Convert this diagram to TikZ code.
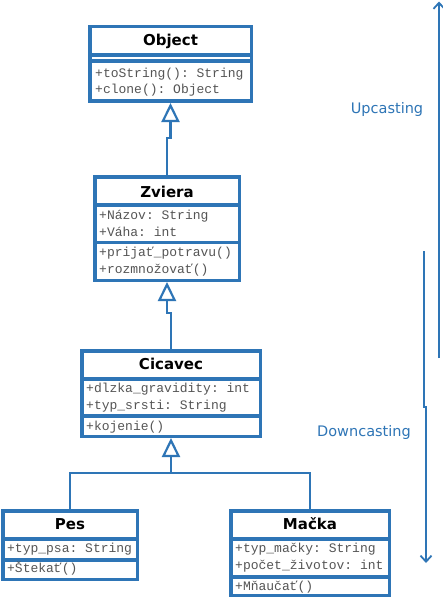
\documentclass[tikz,border=0pt]{standalone}
\usepackage{fontspec}
\setmainfont{DejaVu Sans}
\setmonofont{Liberation Mono}
\usetikzlibrary{arrows.meta}
\definecolor{umlblue}{HTML}{2E75B6}
\definecolor{membergray}{HTML}{555555}
\tikzset{
  classbox/.style={draw=umlblue, line width=3.5pt, fill=white, rectangle, inner sep=0pt},
  sepline/.style={draw=umlblue, line width=3.2pt},
  title/.style={font=\bfseries\fontsize{15}{17}\selectfont, text=black, inner sep=0pt},
  member/.style={font=\ttfamily\fontsize{13}{15}\selectfont, text=membergray, inner sep=0pt, anchor=west, text height=8pt, text depth=2pt},
  gen/.style={draw=umlblue, line width=2.2pt, -{Triangle[open, length=19pt, width=18pt, line width=2.2pt, fill=white]}},
  castarrow/.style={draw=umlblue, line width=2.2pt, -{Straight Barb[length=6pt, width=11pt, line width=1.8pt]}},
  castlabel/.style={font=\fontsize{14.5}{16}\selectfont, text=umlblue, inner sep=0pt}
}
\begin{document}
\begin{tikzpicture}[x=1pt,y=-1pt]
\useasboundingbox[fill=white] (0,0) rectangle (442,599);

% Object
\node[classbox, minimum width=161.5pt, minimum height=74.5pt] (obj) at (170.5,64) {};
\draw[sepline] (obj.west |- 0,55) -- (obj.east |- 0,55);
\draw[sepline] (obj.west |- 0,61) -- (obj.east |- 0,61);
\node[title] (objT) at (170.5,41) {Object};
\node[member] (objM1) at (95,75) {+toString(): String};
\node[member] (objM2) at (95,91) {+clone(): Object};

% Zviera
\node[classbox, minimum width=144.5pt, minimum height=103.5pt] (zv) at (167,228.5) {};
\draw[sepline] (zv.west |- 0,205) -- (zv.east |- 0,205);
\draw[sepline] (zv.west |- 0,242.5) -- (zv.east |- 0,242.5);
\node[title] (zvT) at (167,192) {Zviera};
\node[member] (zvA1) at (99,216) {+Názov: String};
\node[member] (zvA2) at (99,233) {+Váha: int};
\node[member] (zvM1) at (99,253) {+prijať\_potravu()};
\node[member] (zvM2) at (99,270) {+rozmnožovať()};

% Cicavec
\node[classbox, minimum width=178.5pt, minimum height=85.5pt] (cic) at (171,393.5) {};
\draw[sepline] (cic.west |- 0,379) -- (cic.east |- 0,379);
\draw[sepline] (cic.west |- 0,416) -- (cic.east |- 0,416);
\node[title] (cicT) at (171,364) {Cicavec};
\node[member] (cicA1) at (86,389) {+dlzka\_gravidity: int};
\node[member] (cicA2) at (86,406) {+typ\_srsti: String};
\node[member] (cicM1) at (86,427) {+kojenie()};

% Pes
\node[classbox, minimum width=134.5pt, minimum height=68.5pt] (pes) at (70,545) {};
\draw[sepline] (pes.west |- 0,539) -- (pes.east |- 0,539);
\draw[sepline] (pes.west |- 0,560) -- (pes.east |- 0,560);
\node[title] (pesT) at (70,524) {Pes};
\node[member] (pesA1) at (7,549) {+typ\_psa: String};
\node[member] (pesM1) at (7,569) {+Štekať()};

% Macka
\node[classbox, minimum width=158.5pt, minimum height=84.5pt] (mac) at (310,553) {};
\draw[sepline] (mac.west |- 0,539) -- (mac.east |- 0,539);
\draw[sepline] (mac.west |- 0,577) -- (mac.east |- 0,577);
\node[title] (macT) at (310,524) {Mačka};
\node[member] (macA1) at (235,549) {+typ\_mačky: String};
\node[member] (macA2) at (235,566) {+počet\_životov: int};
\node[member] (macM1) at (235,587) {+Mňaučať()};

% Generalizations
\draw[gen] (zv.north) |- (obj.south |- 0,138) -- (obj.south);
\draw[gen] (cic.north) |- (zv.south |- 0,313) -- (zv.south);
\draw[gen] (pes.north) |- (cic.south |- 0,473) -- (cic.south);
\draw[draw=umlblue, line width=2.2pt] (mac.north) |- (cic.south |- 0,473);

% Casting arrows
\coordinate (upS) at (439,358);
\coordinate (upE) at (439,1.5);
\draw[castarrow] (upS) -- (upE);
\node[castlabel] (up) at (387,109) {Upcasting};

\coordinate (dnS) at (424,251);
\coordinate (dnJ) at (424,407);
\coordinate (dnE) at (426,563);
\draw[castarrow] (dnS) -- (dnJ) -| (dnE);
\node[castlabel] (down) at (364,432) {Downcasting};
\end{tikzpicture}
\end{document}
